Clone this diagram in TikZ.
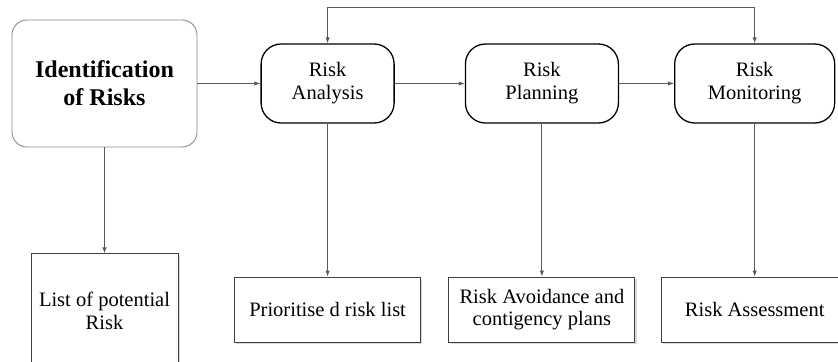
\documentclass[tikz,border=0pt]{standalone}
\usepackage{fontspec}
\setmainfont{Liberation Serif}
\usetikzlibrary{positioning,arrows.meta,shadows}

\begin{document}
\begin{tikzpicture}[
		>={Latex[length=0.18cm,width=0.13cm]},
		line/.style={draw=black!65, line width=0.75pt},
		startbox/.style={
			draw=black!45,
			line width=0.8pt,
			rounded corners=0.45cm,
			minimum width=5.55cm,
			minimum height=3.81cm,
			align=center,
			font=\fontsize{20.5}{24}\selectfont\bfseries
		},
		stagebox/.style={
			draw=black,
			line width=1.1pt,
			rounded corners=0.6cm,
			minimum height=2.37cm,
			align=center,
			font=\fontsize{17.5}{19.5}\selectfont
		},
		outbox/.style={
			draw=black!75,
			line width=0.8pt,
			fill=white,
			drop shadow={shadow xshift=0.05cm, shadow yshift=-0.05cm, fill=black!15, opacity=1},
			minimum width=5.58cm,
			minimum height=1.95cm,
			align=center,
			font=\fontsize{17.5}{19.5}\selectfont
		}
		]
		
		\useasboundingbox (0,0) rectangle (25.14,-10.86);
		
		%--------------------------------------------------
		% Nodes
		%--------------------------------------------------
		
		\node[startbox] (ident) at (3.135,-2.505)
		{Identification\\of Risks};
		
		\node[stagebox, minimum width=3.99cm] (analysis) [right=1.89cm of ident]
		{Risk\\Analysis};
		
		\node[stagebox, minimum width=4.59cm] (planning) [right=2.1cm of analysis]
		{Risk\\Planning};
		
		\node[stagebox, minimum width=4.8cm] (monitoring) [right=1.65cm of planning]
		{Risk\\Monitoring};
		
		\node[outbox, minimum width=4.41cm, minimum height=3.4cm] (potential) [below=3.18cm of ident]
		{List of potential\\Risk};
		
		\node[outbox] (prioritised) [below=4.59cm of analysis]
		{Prioritise d risk list};
		
		\node[outbox] (avoidance) [below=4.59cm of planning]
		{Risk Avoidance and\\contigency plans};
		
		\node[outbox] (assessment) [below=4.59cm of monitoring]
		{Risk Assessment};
		
		%--------------------------------------------------
		% Connections
		%--------------------------------------------------
		
		\draw[->,line] (ident) -- (analysis);
		
		\draw[->,line] (analysis) -- (planning);
		
		\draw[->,line] (planning) -- (monitoring);
		
		\draw[<->,line] (analysis.north) -- ++(0,1.08) -| (monitoring.north);
		
		\draw[->,line] (ident) -- (potential);
		
		\draw[->,line] (analysis) -- (prioritised);
		
		\draw[->,line] (planning) -- (avoidance);
		
		\draw[->,line] (monitoring) -- (assessment);
		
	\end{tikzpicture}
\end{document}
